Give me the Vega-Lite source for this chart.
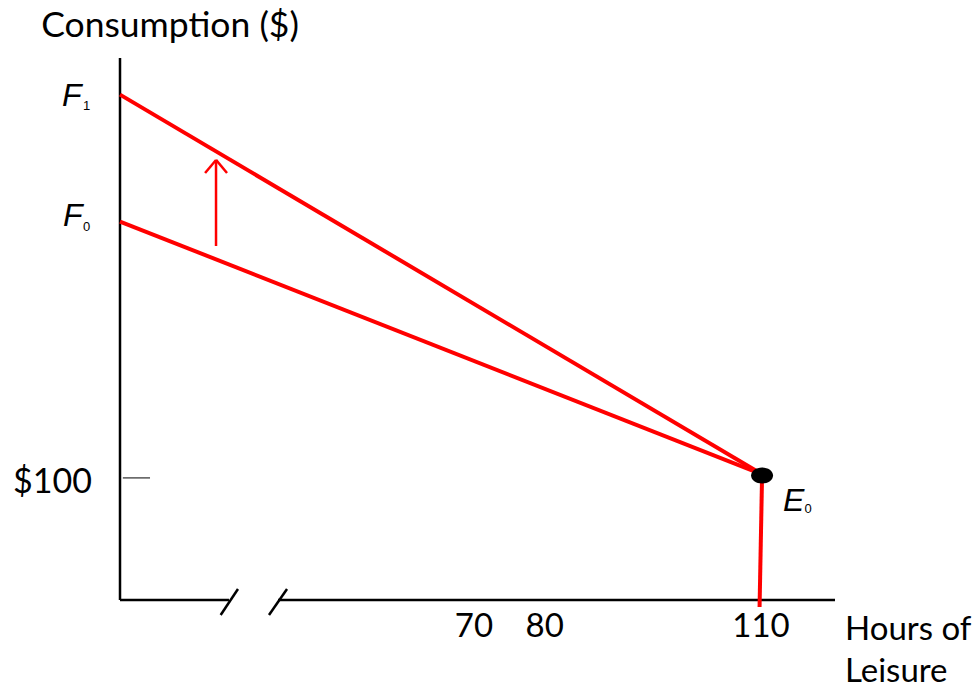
{
  "$schema": "https://vega.github.io/schema/vega-lite/v6.json",
  "width": 715,
  "height": 542,
  "autosize": {"type": "none"},
  "padding": {"left": 120, "top": 58, "right": 141, "bottom": 88},
  "background": "white",
  "config": {"view": {"stroke": null}},
  "datasets": {
    "budget": [
      {"line": "F1", "ord": 0, "hours": 20, "consumption": 414},
      {"line": "F1", "ord": 1, "hours": 109.8, "consumption": 103},
      {"line": "F0", "ord": 0, "hours": 20, "consumption": 310},
      {"line": "F0", "ord": 1, "hours": 109.8, "consumption": 103},
      {"line": "E0", "ord": 0, "hours": 109.8, "consumption": 102},
      {"line": "E0", "ord": 1, "hours": 109.45, "consumption": -5.7}
    ],
    "axes": [
      {"part": "yaxis", "x": 20, "x2": 20, "y": 0, "y2": 444},
      {"part": "xaxis1", "x": 20, "x2": 35.24, "y": 0, "y2": 0},
      {"part": "xaxis2", "x": 42.1, "x2": 120, "y": 0, "y2": 0},
      {"part": "break1", "x": 34.08, "x2": 36.5, "y": -12.3, "y2": 9},
      {"part": "break2", "x": 40.84, "x2": 43.36, "y": -12.3, "y2": 9}
    ],
    "ticks": [
      {"x": 20.4, "x2": 24.2, "y": 100, "y2": 100}
    ],
    "arrow": [
      {"part": "shaft", "x": 33.43, "x2": 33.43, "y": 290, "y2": 360.5},
      {"part": "headL", "x": 31.9, "x2": 33.43, "y": 349.8, "y2": 360.5},
      {"part": "headR", "x": 34.97, "x2": 33.43, "y": 349.8, "y2": 360.5}
    ],
    "point": [
      {"label": "E0", "hours": 109.8, "consumption": 102}
    ],
    "titleText": [
      {"text": "Consumption ($)", "x": 27, "y": 461.2}
    ],
    "centerText": [
      {"text": "70", "x": 69.5, "y": -30.3},
      {"text": "80", "x": 79.4, "y": -30.3},
      {"text": "110", "x": 109.65, "y": -30.3}
    ],
    "rightText": [
      {"text": "$100", "x": 16.08, "y": 87.7}
    ],
    "leftText": [
      {"text": "Hours of", "x": 121.4, "y": -32.8},
      {"text": "Leisure", "x": 121.4, "y": -67.2}
    ],
    "italicText": [
      {"text": "F", "x": 11.9, "y": 404.7},
      {"text": "F", "x": 12.03, "y": 306.4},
      {"text": "E", "x": 112.73, "y": 72.9}
    ],
    "subText": [
      {"text": "1", "x": 14.83, "y": 401.4},
      {"text": "0", "x": 14.83, "y": 302.3},
      {"text": "0", "x": 115.75, "y": 71.3}
    ]
  },
  "layer": [
    {
      "data": {"name": "axes"},
      "mark": {"type": "rule", "color": "black", "strokeWidth": 2.5},
      "encoding": {
        "x": {"field": "x", "type": "quantitative", "scale": {"domain": [20, 120], "nice": false, "zero": false}, "axis": null},
        "x2": {"field": "x2"},
        "y": {"field": "y", "type": "quantitative", "scale": {"domain": [0, 444], "nice": false, "zero": false}, "axis": null},
        "y2": {"field": "y2"}
      }
    },
    {
      "data": {"name": "ticks"},
      "mark": {"type": "rule", "color": "black", "strokeWidth": 1},
      "encoding": {
        "x": {"field": "x", "type": "quantitative"},
        "x2": {"field": "x2"},
        "y": {"field": "y", "type": "quantitative"},
        "y2": {"field": "y2"}
      }
    },
    {
      "data": {"name": "budget"},
      "mark": {"type": "line", "color": "#FF0000", "strokeWidth": 4},
      "encoding": {
        "x": {"field": "hours", "type": "quantitative"},
        "y": {"field": "consumption", "type": "quantitative"},
        "detail": {"field": "line"},
        "order": {"field": "ord"}
      }
    },
    {
      "data": {"name": "arrow"},
      "mark": {"type": "rule", "color": "#FF0000", "strokeWidth": 2.5},
      "encoding": {
        "x": {"field": "x", "type": "quantitative"},
        "x2": {"field": "x2"},
        "y": {"field": "y", "type": "quantitative"},
        "y2": {"field": "y2"}
      }
    },
    {
      "data": {"name": "point"},
      "mark": {"type": "point", "filled": true, "color": "black", "opacity": 1, "size": 484, "shape": "M-1,0A1,0.73 0 1,1 1,0A1,0.73 0 1,1 -1,0Z"},
      "encoding": {
        "x": {"field": "hours", "type": "quantitative"},
        "y": {"field": "consumption", "type": "quantitative"}
      }
    },
    {
      "data": {"name": "titleText"},
      "mark": {"type": "text", "font": "Lato", "fontSize": 35.5, "align": "center", "baseline": "alphabetic", "color": "black"},
      "encoding": {
        "x": {"field": "x", "type": "quantitative"},
        "y": {"field": "y", "type": "quantitative"},
        "text": {"field": "text"}
      }
    },
    {
      "data": {"name": "centerText"},
      "mark": {"type": "text", "font": "Lato", "fontSize": 33, "align": "center", "baseline": "alphabetic", "color": "black"},
      "encoding": {
        "x": {"field": "x", "type": "quantitative"},
        "y": {"field": "y", "type": "quantitative"},
        "text": {"field": "text"}
      }
    },
    {
      "data": {"name": "rightText"},
      "mark": {"type": "text", "font": "Lato", "fontSize": 34, "align": "right", "baseline": "alphabetic", "color": "black"},
      "encoding": {
        "x": {"field": "x", "type": "quantitative"},
        "y": {"field": "y", "type": "quantitative"},
        "text": {"field": "text"}
      }
    },
    {
      "data": {"name": "leftText"},
      "mark": {"type": "text", "font": "Lato", "fontSize": 33, "align": "left", "baseline": "alphabetic", "color": "black"},
      "encoding": {
        "x": {"field": "x", "type": "quantitative"},
        "y": {"field": "y", "type": "quantitative"},
        "text": {"field": "text"}
      }
    },
    {
      "data": {"name": "italicText"},
      "mark": {"type": "text", "font": "Liberation Sans", "fontStyle": "italic", "fontSize": 32, "align": "left", "baseline": "alphabetic", "color": "black"},
      "encoding": {
        "x": {"field": "x", "type": "quantitative"},
        "y": {"field": "y", "type": "quantitative"},
        "text": {"field": "text"}
      }
    },
    {
      "data": {"name": "subText"},
      "mark": {"type": "text", "font": "Liberation Sans", "fontSize": 13, "align": "left", "baseline": "alphabetic", "color": "black"},
      "encoding": {
        "x": {"field": "x", "type": "quantitative"},
        "y": {"field": "y", "type": "quantitative"},
        "text": {"field": "text"}
      }
    }
  ]
}
